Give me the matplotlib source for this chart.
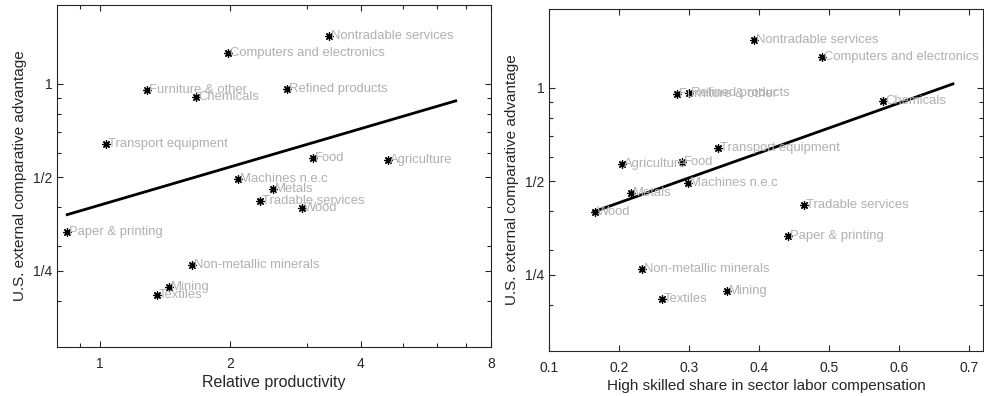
import matplotlib.pyplot as plt
import numpy as np

plt.rcParams['font.family'] = ['Liberation Sans', 'DejaVu Sans']

sectors = ['Nontradable services', 'Computers and electronics', 'Furniture & other',
           'Chemicals', 'Refined products', 'Transport equipment', 'Food', 'Agriculture',
           'Machines n.e.c', 'Metals', 'Tradable services', 'Wood', 'Paper & printing',
           'Non-metallic minerals', 'Mining', 'Textiles']

# comparative advantage (shared by both panels)
advantage = [1.425, 1.255, 0.957, 0.908, 0.962, 0.638, 0.575, 0.567,
             0.492, 0.457, 0.418, 0.397, 0.334, 0.261, 0.222, 0.209]

productivity = [3.37, 1.97, 1.28, 1.665, 2.70, 1.032, 3.10, 4.62,
                2.08, 2.51, 2.34, 2.92, 0.839, 1.63, 1.44, 1.35]

skill_share = [0.393, 0.490, 0.283, 0.577, 0.300, 0.341, 0.290, 0.204,
               0.299, 0.217, 0.464, 0.166, 0.441, 0.233, 0.354, 0.261]

fit_prod_x = [0.839, 6.63]
fit_prod_y = [0.379, 0.882]
fit_skill_x = [0.164, 0.677]
fit_skill_y = [0.399, 1.03]

y_major = [0.25, 0.5, 1]
y_labels = ['1/4', '1/2', '1']
y_minor = [0.2, 0.3, 0.4, 0.6, 0.7, 0.8, 0.9]

grey = '#b0b0b0'
axcol = '#262626'

fig = plt.figure(figsize=(9.84, 3.96), dpi=100)
ax1 = fig.add_axes([0.058, 0.124, 0.441, 0.864])
ax2 = fig.add_axes([0.558, 0.114, 0.441, 0.864])


def style(ax):
    ax.set_yscale('log', base=2)
    ax.set_ylim(0.142, 1.8)
    ax.set_yticks(y_major)
    ax.set_yticklabels(y_labels)
    ax.set_yticks(y_minor, minor=True)
    ax.yaxis.set_minor_formatter(plt.NullFormatter())
    ax.tick_params(which='both', direction='in', top=True, right=True,
                   colors=axcol, labelsize=10, width=0.8)
    ax.tick_params(which='major', length=4)
    ax.tick_params(which='minor', length=3)
    ax.tick_params(axis='x', which='both', pad=7.5)
    for s in ax.spines.values():
        s.set_color(axcol)
        s.set_linewidth(0.8)
    ax.set_ylabel('U.S. external comparative advantage', fontsize=11, color=axcol)


def scatter(ax, xs):
    # MATLAB-style asterisk marker
    ax.plot(xs, advantage, linestyle='none', marker=(8, 2, 0), color='black',
            markersize=6, markeredgewidth=0.9)
    for name, x, y in zip(sectors, xs, advantage):
        ax.annotate(name, (x, y), xytext=(1.5, 0), textcoords='offset points',
                    ha='left', va='center', color=grey, fontsize=9.4)


# left panel
style(ax1)
ax1.set_xscale('log', base=2)
ax1.set_xlim(0.795, 8)
ax1.set_xticks([1, 2, 4, 8])
ax1.set_xticklabels(['1', '2', '4', '8'])
ax1.set_xticks([0.9, 3, 5, 6, 7], minor=True)
ax1.xaxis.set_minor_formatter(plt.NullFormatter())
scatter(ax1, productivity)
ax1.plot(fit_prod_x, fit_prod_y, color='black', linewidth=2)
ax1.set_xlabel('Relative productivity', fontsize=11.5, color=axcol, labelpad=3)

# right panel
style(ax2)
ax2.set_xlim(0.1, 0.72)
ax2.set_xticks([0.1, 0.2, 0.3, 0.4, 0.5, 0.6, 0.7])
ax2.set_xticklabels(['0.1', '0.2', '0.3', '0.4', '0.5', '0.6', '0.7'])
scatter(ax2, skill_share)
ax2.plot(fit_skill_x, fit_skill_y, color='black', linewidth=2)
ax2.set_xlabel('High skilled share in sector labor compensation', fontsize=11,
               color=axcol, labelpad=3)

fig.savefig('out.png', dpi=100)
